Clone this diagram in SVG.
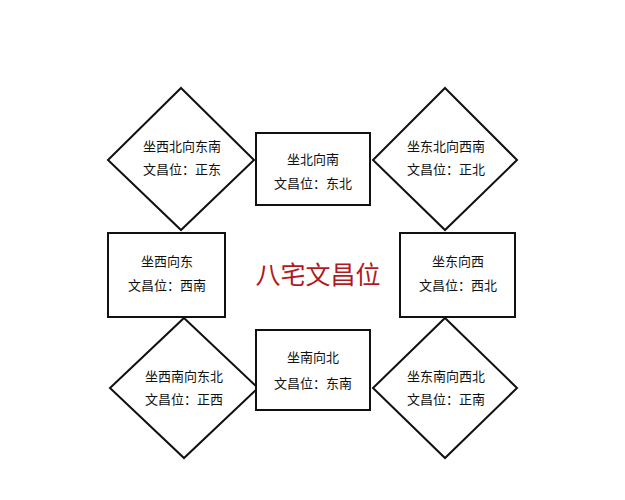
<svg xmlns="http://www.w3.org/2000/svg" width="625" height="500" viewBox="0 0 625 500">
<style>
.s{fill:#fff;stroke:#111;stroke-width:2}
.t{font-family:"Noto Sans CJK SC","Liberation Sans",sans-serif;font-size:13px;fill:#111;text-anchor:middle}
.h{font-family:"Noto Sans CJK SC","Liberation Sans",sans-serif;font-size:25px;fill:#b0191e;text-anchor:middle}
</style>
<rect width="625" height="500" fill="#fff"/>
<g id="connectors"></g>
<g id="nw"><polygon class="s" points="181,88 254,160 181,230 108,160"/><text class="t" x="182" y="151">坐西北向东南</text><text class="t" x="182" y="174">文昌位：正东</text></g>
<g id="n"><rect class="s" x="256" y="133" width="114" height="72"/><text class="t" x="313" y="164">坐北向南</text><text class="t" x="313" y="188">文昌位：东北</text></g>
<g id="ne"><polygon class="s" points="445,88 517,160 445,230 373,160"/><text class="t" x="446" y="151">坐东北向西南</text><text class="t" x="446" y="174">文昌位：正北</text></g>
<g id="w"><rect class="s" x="108" y="233" width="117" height="84"/><text class="t" x="167" y="266">坐西向东</text><text class="t" x="167" y="290">文昌位：西南</text></g>
<g id="title"><text class="h" x="318" y="284">八宅文昌位</text></g>
<g id="e"><rect class="s" x="400" y="233" width="115" height="84"/><text class="t" x="458" y="266">坐东向西</text><text class="t" x="458" y="290">文昌位：西北</text></g>
<g id="sw"><polygon class="s" points="184,318 258,388 184,458 110,388"/><text class="t" x="184" y="381">坐西南向东北</text><text class="t" x="184" y="404">文昌位：正西</text></g>
<g id="s"><rect class="s" x="256" y="330" width="114" height="80"/><text class="t" x="313" y="362">坐南向北</text><text class="t" x="313" y="388">文昌位：东南</text></g>
<g id="se"><polygon class="s" points="445,318 517,388 445,458 373,388"/><text class="t" x="446" y="381">坐东南向西北</text><text class="t" x="446" y="404">文昌位：正南</text></g>
</svg>
